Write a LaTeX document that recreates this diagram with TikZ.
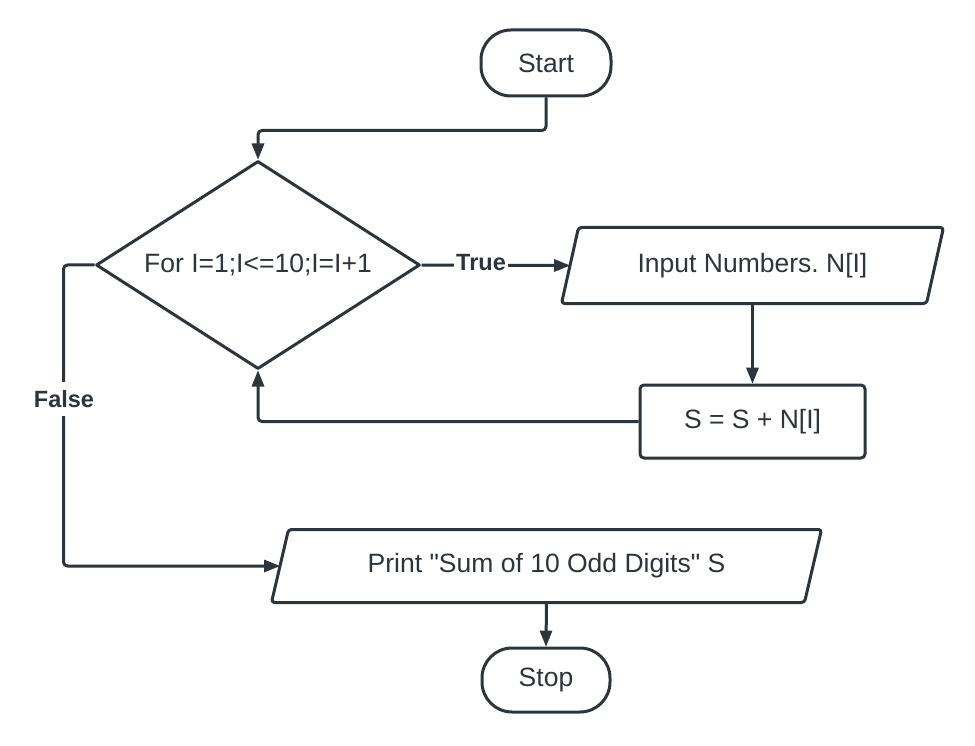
\documentclass[tikz,border=0pt]{standalone}
\usepackage{fontspec}
\setmainfont{Liberation Sans}[Ligatures=TeXOff]
\usetikzlibrary{shapes.geometric}
\definecolor{ink}{RGB}{46,52,59}
\frenchspacing

\begin{document}
\begin{tikzpicture}[x=1pt,y=-1pt,line width=3pt,line join=round]
\tikzstyle{every node}+=[inner sep=0pt,text=ink,font=\fontsize{26.5}{30}\selectfont]
\tikzstyle{term}=[draw=ink,rounded corners=30pt,minimum width=130pt,minimum height=66pt]
\tikzstyle{proc}=[draw=ink,rounded corners=4pt,minimum width=225pt,minimum height=73pt]
\tikzstyle{io}=[minimum height=73pt]
\tikzstyle{link}=[draw=ink,rounded corners=4pt,shorten >=12pt]
\tikzstyle{lbl}=[fill=white,inner xsep=2pt,inner ysep=8pt,font=\bfseries\fontsize{23.5}{26}\selectfont]
\useasboundingbox [fill=white] (0,0) rectangle (975,746);
\node [term] (start) at (546,63) {Start};
\node [draw=ink,diamond,aspect=1.56,minimum width=324pt,minimum height=208pt] (cond) at (258,265) {For I=1;I<=10;I=I+1};
\node [io,minimum width=362pt] (inp) at (752.5,265.5) {Input Numbers. N[I]};
\draw [ink,rounded corners=3pt] ([xshift=8.5pt]inp.north west) -- ([xshift=8.5pt]inp.north east) -- ([xshift=-8.5pt]inp.south east) -- ([xshift=-8.5pt]inp.south west) -- cycle;
\node [proc] (calc) at (752.5,421.5) {S = S + N[I]};
\node [io,minimum width=530pt,minimum height=70pt] (out) at (546.5,566) {Print "Sum of 10 Odd Digits" S};
\draw [ink,rounded corners=3pt] ([xshift=8.5pt]out.north west) -- ([xshift=8.5pt]out.north east) -- ([xshift=-8.5pt]out.south east) -- ([xshift=-8.5pt]out.south west) -- cycle;
\node [term,minimum width=128pt,minimum height=64pt] (stop) at (546,680) {Stop};
% start -> loop test
\draw [link] (start.south) -- ++(0,33) -| (cond.north);
\fill [ink] (cond.north) -- ++(-6.5,-16) -- ++(13,0) -- cycle;
% true branch
\draw [link] (cond.east) -- (inp.west);
\fill [ink] (inp.west) -- ++(-16,-6.5) -- ++(0,13) -- cycle;
\node [lbl] (yes) at (481,263) {True};
\draw [link] (inp.south) -- (calc.north);
\fill [ink] (calc.north) -- ++(-6.5,-16) -- ++(13,0) -- cycle;
\draw [link] (calc.west) -| (cond.south);
\fill [ink] (cond.south) -- ++(-6.5,16) -- ++(13,0) -- cycle;
% false branch
\draw [link] (cond.west) -- ++(-31,0) |- (out.west);
\fill [ink] (out.west) -- ++(-16,-6.5) -- ++(0,13) -- cycle;
\node [lbl] (no) at (64,399) {False};
\draw [link] (out.south) -- (stop.north);
\fill [ink] (stop.north) -- ++(-6.5,-16) -- ++(13,0) -- cycle;
\end{tikzpicture}
\end{document}
